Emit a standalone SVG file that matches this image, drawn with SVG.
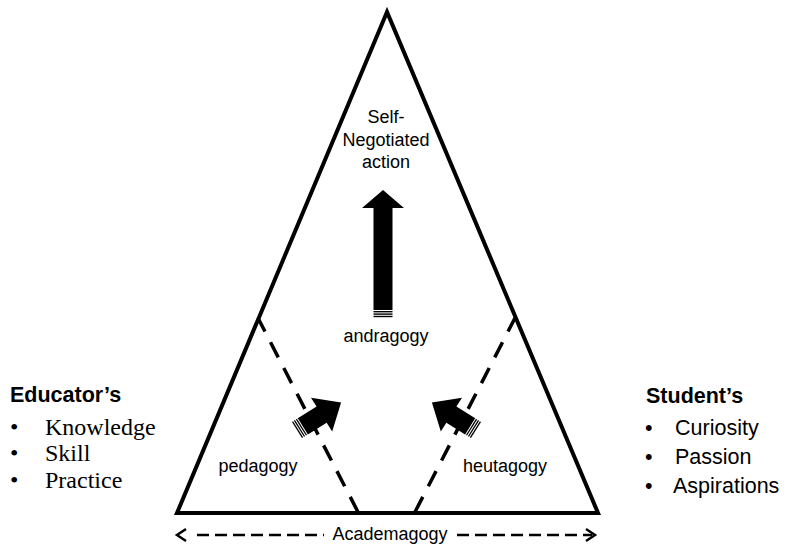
<svg xmlns="http://www.w3.org/2000/svg" width="795" height="545" viewBox="0 0 795 545">
<style>
.sans{font-family:"Liberation Sans","Noto Sans",Arial,sans-serif;fill:#000}
.serif{font-family:"Liberation Serif","Times New Roman",serif;fill:#000}
.lbl{font-size:18px;text-anchor:middle}
.dash{fill:none;stroke:#000;stroke-width:3.5;stroke-dasharray:17 12}
.tri{fill:none;stroke:#000;stroke-width:4;stroke-linejoin:miter}
</style>
<rect width="795" height="545" fill="#fff"/>
<g id="triangle">
<polygon class="tri" points="387,12 177,513 598,513"/>
</g>
<g id="connectors">
<line class="dash" x1="358" y1="512" x2="258" y2="318"/>
<line class="dash" x1="415" y1="512" x2="515" y2="318"/>
<g fill="none" stroke="#000" stroke-width="2.5">
<line x1="197" y1="535" x2="324" y2="535" stroke-dasharray="12 6"/>
<line x1="457" y1="535" x2="592" y2="535" stroke-dasharray="12 6"/>
<polyline points="186,529 177,535 186,541"/>
<polyline points="586,529 595,535 586,541"/>
</g>
</g>
<g id="arrow-up">
<polygon points="383,190 404,208 392.5,208 392.5,310 373.5,310 373.5,208 362,208"/>
<rect x="373.5" y="311" width="19" height="1.4"/>
<rect x="373.5" y="313.4" width="19" height="1.4"/>
<rect x="373.5" y="315.8" width="19" height="1.4"/>
</g>
<g id="arrow-left" transform="translate(297,430) rotate(-32)">
<polygon points="6.9,-9.5 29,-9.5 29,-20 52,0 29,20 29,9.5 6.9,9.5"/>
<rect x="0" y="-9.5" width="1.3" height="19"/>
<rect x="2.3" y="-9.5" width="1.3" height="19"/>
<rect x="4.6" y="-9.5" width="1.3" height="19"/>
</g>
<g id="arrow-right" transform="translate(476,430) rotate(-148)">
<polygon points="6.9,-9.5 29,-9.5 29,-20 52,0 29,20 29,9.5 6.9,9.5"/>
<rect x="0" y="-9.5" width="1.3" height="19"/>
<rect x="2.3" y="-9.5" width="1.3" height="19"/>
<rect x="4.6" y="-9.5" width="1.3" height="19"/>
</g>
<g id="self-negotiated">
<text class="sans lbl" x="386" y="123">Self-</text>
<text class="sans lbl" x="386" y="145.5">Negotiated</text>
<text class="sans lbl" x="386" y="168">action</text>
</g>
<g id="andragogy"><text class="sans lbl" x="386" y="342">andragogy</text></g>
<g id="pedagogy"><text class="sans lbl" x="258" y="472">pedagogy</text></g>
<g id="heutagogy"><text class="sans lbl" x="505" y="472">heutagogy</text></g>
<g id="academagogy"><text class="sans lbl" x="390" y="540">Academagogy</text></g>
<g id="educator">
<text class="sans" x="10" y="402" font-size="21.5" font-weight="bold">Educator’s</text>
<text class="serif" font-size="24"><tspan x="10" y="435">•</tspan><tspan x="10" y="461">•</tspan><tspan x="10" y="488">•</tspan></text>
<text class="serif" font-size="24"><tspan x="45" y="435">Knowledge</tspan><tspan x="45" y="461">Skill</tspan><tspan x="45" y="488">Practice</tspan></text>
</g>
<g id="student">
<text class="sans" x="646" y="403" font-size="21.5" font-weight="bold">Student’s</text>
<text class="sans" font-size="21.5"><tspan x="645" y="435">•</tspan><tspan x="645" y="464">•</tspan><tspan x="645" y="493">•</tspan></text>
<text class="sans" font-size="21.5"><tspan x="675" y="435">Curiosity</tspan><tspan x="675" y="464">Passion</tspan><tspan x="673" y="493">Aspirations</tspan></text>
</g>
</svg>
